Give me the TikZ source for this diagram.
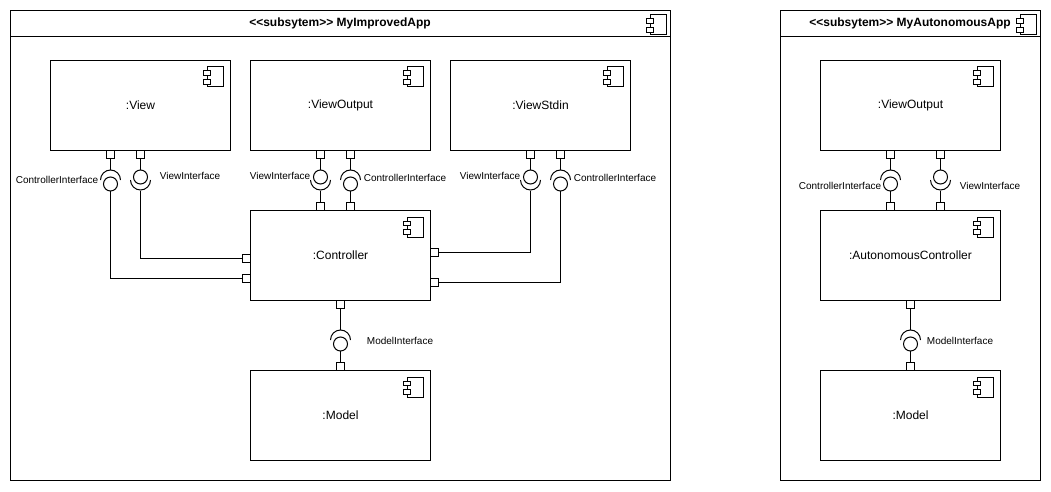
\documentclass[tikz,border=0pt]{standalone}
\usepackage{fontspec}
\setmainfont{Liberation Sans}
\usetikzlibrary{calc}
\tikzset{
  ink/.style={draw=black,line width=1pt},
  frame/.style={ink,fill=white,rectangle,inner sep=0pt,outer sep=0pt,anchor=north west,minimum width=#1,minimum height=470pt},
  comp/.style={ink,fill=white,rectangle,inner sep=0pt,outer sep=0pt,minimum width=180pt,minimum height=90pt,font=\fontsize{12}{14}\selectfont},
  port/.style={ink,fill=white,rectangle,inner sep=0pt,outer sep=0pt,minimum size=8pt},
  ball/.style={ink,circle,inner sep=0pt,outer sep=0pt,minimum size=14pt},
  ilabel/.style={inner sep=0pt,font=\fontsize{10}{12}\selectfont},
  title/.style={inner sep=0pt,font=\fontsize{12}{14}\selectfont\bfseries},
  wire/.style={ink,line join=miter}
}
% component glyph: #1 = top-right corner node anchor, #2 = x inset of body, #3 = y inset of body
\newcommand{\glyph}[3]{%
  \draw[ink,fill=white] ($(#1)+(-#2-16,#3+0.5)$) rectangle ($(#1)+(-#2,#3+20.5)$);
  \draw[ink,fill=white] ($(#1)+(-#2-20,#3+4.5)$) rectangle ($(#1)+(-#2-13,#3+9)$);
  \draw[ink,fill=white] ($(#1)+(-#2-20,#3+13)$) rectangle ($(#1)+(-#2-13,#3+18)$);
}
% interface: ball with socket arc above
\newcommand{\ifaceup}[3]{%
  \node[ball] (#1) at (#2,#3+4) {};
  \coordinate (#1-a) at (#2,#3-10);
  \draw[ink] (#2-10,#3) arc[start angle=180,end angle=0,radius=10pt];
}
% interface: ball with socket arc below
\newcommand{\ifacedn}[3]{%
  \node[ball] (#1) at (#2,#3-3) {};
  \coordinate (#1-a) at (#2,#3+10.5);
  \draw[ink] (#2-10,#3) arc[start angle=180,end angle=360,radius=10pt];
}
\begin{document}
\begin{tikzpicture}[x=1pt,y=-1pt]
\useasboundingbox (0,0) rectangle (1051,492);
\fill[white] (0,0) rectangle (1051,492);

% frames
\node[frame=660pt] (F1) at (10.5,10.5) {};
\node[frame=260pt] (F2) at (780.5,10.5) {};
\draw[ink] (10.5,36.5) -- (670.5,36.5);
\draw[ink] (780.5,36.5) -- (1040.5,36.5);
\node[title] (T1) at (340,23.5) {{<}{<}subsytem{>}{>} MyImprovedApp};
\node[title] (T2) at (910,23.5) {{<}{<}subsytem{>}{>} MyAutonomousApp};
\glyph{F1.north east}{4}{4}
\glyph{F2.north east}{4}{4}

% components
\node[comp] (view)  at (140.5,105.5) {:View};
\node[comp] (vout)  at (340.5,105.5) {:ViewOutput};
\node[comp] (vin)   at (540.5,105.5) {:ViewStdin};
\node[comp] (ctrl)  at (340.5,255.5) {:Controller};
\node[comp] (model) at (340.5,415.5) {:Model};
\node[comp] (vout2) at (910.5,105.5) {:ViewOutput};
\node[comp] (actrl) at (910.5,255.5) {:AutonomousController};
\node[comp] (model2) at (910.5,415.5) {:Model};
\foreach \n in {view,vout,vin,ctrl,model,vout2,actrl,model2}{\glyph{\n.north east}{7}{6}}

% ports
\foreach \n/\x/\y in {
  pa/110.5/154.5, pb/140.5/154.5, pc/320.5/154.5, pd/350.5/154.5,
  pe/530.5/154.5, pf/560.5/154.5, pg/320.5/206.5, ph/350.5/206.5,
  pi/246.5/258.5, pj/246.5/278.5, pk/434.5/252.5, pl/434.5/282.5,
  pm/340.5/304.5, pn/340.5/366.5,
  po/890.5/154.5, pp/940.5/154.5, pq/890.5/206.5, pr/940.5/206.5,
  ps/910.5/304.5, pt/910.5/366.5}
  {\node[port] (\n) at (\x,\y) {};}

% interfaces
\ifaceup{ia}{110.5}{180}
\ifacedn{ib}{140.5}{180}
\ifacedn{ic}{320.5}{180}
\ifaceup{id}{350.5}{180}
\ifacedn{ie}{530.5}{180}
\ifaceup{if}{560.5}{180}
\ifaceup{im}{340.5}{340}
\ifaceup{io}{890.5}{180}
\ifacedn{ip}{940.5}{180}
\ifaceup{is}{910.5}{340}

% connectors
\draw[wire] (pa.south) -- (ia-a);
\draw[wire] (ia.south) |- (pj.west);
\draw[wire] (pb.south) -- (ib.north);
\draw[wire] (ib-a) |- (pi.west);
\draw[wire] (pc.south) -- (ic.north);
\draw[wire] (ic-a) -- (pg.north);
\draw[wire] (pd.south) -- (id-a);
\draw[wire] (id.south) -- (ph.north);
\draw[wire] (pe.south) -- (ie.north);
\draw[wire] (ie-a) |- (pk.east);
\draw[wire] (pf.south) -- (if-a);
\draw[wire] (if.south) |- (pl.east);
\draw[wire] (pm.south) -- (im-a);
\draw[wire] (im.south) -- (pn.north);
\draw[wire] (po.south) -- (io-a);
\draw[wire] (io.south) -- (pq.north);
\draw[wire] (pp.south) -- (ip.north);
\draw[wire] (ip-a) -- (pr.north);
\draw[wire] (ps.south) -- (is-a);
\draw[wire] (is.south) -- (pt.north);

% labels
\node[ilabel] (la) at (57,180) {ControllerInterface};
\node[ilabel] (lb) at (190,175.5) {ViewInterface};
\node[ilabel] (lc) at (280,175.5) {ViewInterface};
\node[ilabel] (ld) at (405,178) {ControllerInterface};
\node[ilabel] (le) at (490,175.5) {ViewInterface};
\node[ilabel] (lf) at (615,178) {ControllerInterface};
\node[ilabel] (lm) at (400,341) {ModelInterface};
\node[ilabel] (lo) at (840,185.5) {ControllerInterface};
\node[ilabel] (lp) at (990,185.5) {ViewInterface};
\node[ilabel] (ls) at (960,341) {ModelInterface};
\end{tikzpicture}
\end{document}
